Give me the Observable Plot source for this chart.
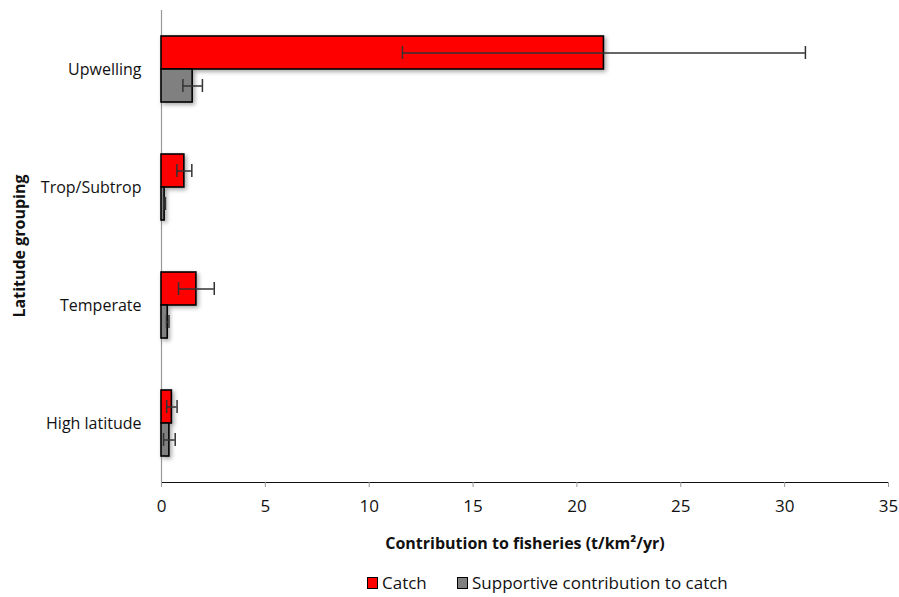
<!DOCTYPE html>
<html>
<head>
<meta charset="utf-8">
<script src="https://cdn.jsdelivr.net/npm/d3@7"></script>
<script src="https://cdn.jsdelivr.net/npm/@observablehq/plot@0.6"></script>
<style>
  body { margin: 0; background: #fff; font-family: "Open Sans", Lato, sans-serif; }
  #chart { width: 899px; }
  .legend { position: relative; height: 32px; font-size: 17px; color: #111; }
  .legend .item { position: absolute; top: 6px; display: flex; align-items: center; white-space: nowrap; }
  .legend span.sw { display: inline-block; width: 9px; height: 10px; border: 1.5px solid #000; margin-right: 4px; }
</style>
</head>
<body>
<div id="chart"></div>
<script>
const groups = ["Upwelling", "Trop/Subtrop", "Temperate", "High latitude"];
const seriesNames = ["Catch", "Supportive contribution to catch"];
const catchValues = [21.3, 1.1, 1.68, 0.5];
const catchErr = [9.7, 0.36, 0.86, 0.25];
const suppValues = [1.5, 0.15, 0.3, 0.38];
const suppErr = [0.47, 0.04, 0.06, 0.28];
const xTicks = [0, 5, 10, 15, 20, 25, 30, 35];
const colors = ["#ff0000", "#808080"];

const data = [];
groups.forEach((g, i) => {
  data.push({group: g, series: seriesNames[0], value: catchValues[i], err: catchErr[i]});
  data.push({group: g, series: seriesNames[1], value: suppValues[i], err: suppErr[i]});
});

const plot = Plot.plot({
  width: 899,
  height: 565,
  marginLeft: 161,
  marginRight: 11,
  marginTop: 10,
  marginBottom: 83,
  style: {fontFamily: '"Open Sans", Lato, sans-serif', fontSize: "16px", color: "#111", background: "#fff"},
  x: {domain: [0, 35], ticks: xTicks, tickSize: 5, tickPadding: 12, label: null, line: true},
  y: {domain: seriesNames, axis: null, paddingInner: 0, paddingOuter: 0.74},
  fy: {domain: groups, padding: 0, tickSize: 0, tickPadding: 20, label: null, axis: "left"},
  color: {domain: seriesNames, range: colors},
  marks: [
    Plot.ruleX([0], {stroke: "#999", strokeWidth: 1.2}),
    Plot.barX(data, {x: "value", y: "series", fy: "group", fill: "series", stroke: "#000", strokeWidth: 1.6}),
    Plot.ruleY(data, {x1: d => Math.max(0, d.value - d.err), x2: d => d.value + d.err, y: "series", fy: "group", stroke: "#333", strokeWidth: 1.5}),
    Plot.tickX(data, {x: d => Math.max(0, d.value - d.err), y: "series", fy: "group", stroke: "#333", strokeWidth: 1.5, insetTop: 10, insetBottom: 10}),
    Plot.tickX(data, {x: d => d.value + d.err, y: "series", fy: "group", stroke: "#333", strokeWidth: 1.5, insetTop: 10, insetBottom: 10})
  ]
});

const svg = d3.select(plot);
svg.selectAll('g[aria-label^="x-axis"] path, g[aria-label^="x-axis"] line').attr("stroke", "#999");
svg.selectAll('g[aria-label^="x-axis"] text').attr("font-size", "17px");
svg.selectAll('g[aria-label="bar"]').style("filter", "drop-shadow(2px 2px 2px rgba(0,0,0,0.35))");

svg.append("text")
  .attr("transform", "translate(25,246) rotate(-90)")
  .attr("text-anchor", "middle")
  .attr("font-weight", "bold")
  .attr("font-size", "16px")
  .attr("fill", "#111")
  .text("Latitude grouping");

svg.append("text")
  .attr("x", 525)
  .attr("y", 549)
  .attr("text-anchor", "middle")
  .attr("font-weight", "bold")
  .attr("font-size", "16px")
  .attr("fill", "#111")
  .text("Contribution to fisheries (t/km²/yr)");

document.getElementById("chart").appendChild(plot);

const legend = d3.select("#chart").append("div").attr("class", "legend");
const legendX = [367, 457];
seriesNames.forEach((s, i) => {
  const item = legend.append("div").attr("class", "item").style("left", legendX[i] + "px");
  item.append("span").attr("class", "sw").style("background", colors[i]);
  item.append("span").text(s);
});
</script>
</body>
</html>
